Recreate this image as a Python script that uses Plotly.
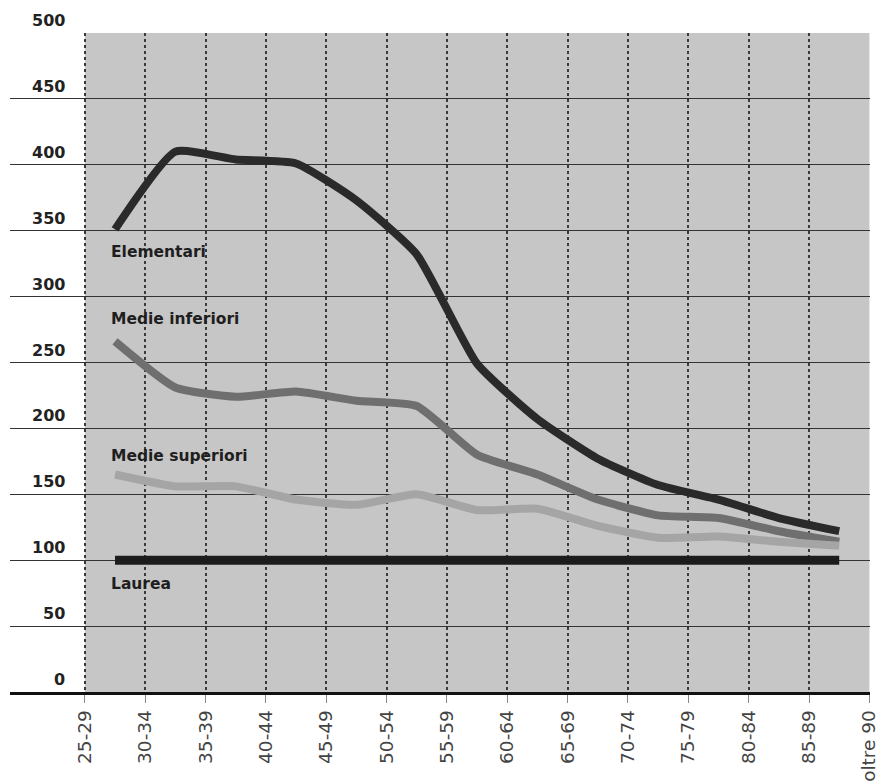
import plotly.graph_objects as go

categories = ["25-29", "30-34", "35-39", "40-44", "45-49", "50-54", "55-59",
              "60-64", "65-69", "70-74", "75-79", "80-84", "85-89", "oltre 90"]

elementari = [351, 410, 404, 401, 373, 332, 249, 207, 177, 157, 146, 132, 122]
medie_inferiori = [266, 231, 224, 228, 221, 217, 180, 165, 146, 134, 132, 122, 114]
medie_superiori = [165, 156, 156, 146, 142, 150, 138, 139, 126, 117, 118, 114, 111]
laurea = [100, 100, 100, 100, 100, 100, 100, 100, 100, 100, 100, 100, 100]

y_ticks = [0, 50, 100, 150, 200, 250, 300, 350, 400, 450, 500]

series = [
    ("Elementari", elementari, "#2a2a2a", 8, "spline", 334),
    ("Medie inferiori", medie_inferiori, "#6f6f6f", 8, "spline", 283),
    ("Medie superiori", medie_superiori, "#a5a5a5", 8, "spline", 179),
    ("Laurea", laurea, "#1c1c1c", 9, "linear", 82),
]

x_mid = [i + 0.5 for i in range(len(elementari))]

fig = go.Figure()
for name, vals, color, w, shape, _ in series:
    fig.add_trace(go.Scatter(
        x=x_mid, y=vals, mode="lines", name=name,
        line=dict(color=color, width=w, shape=shape, smoothing=0.5),
        showlegend=False, hoverinfo="skip"))

# gray plot panel
fig.add_shape(type="rect", xref="x", yref="y", x0=0, x1=len(categories) - 1,
              y0=0, y1=500, fillcolor="#c6c6c6", line=dict(width=0), layer="below")

# series labels
for name, vals, color, w, shape, ly in series:
    fig.add_annotation(x=0.4, y=ly, text=name, showarrow=False, xanchor="left",
                       yanchor="middle",
                       font=dict(family="DejaVu Sans", size=15.5, color="#1e1e1e", weight="bold"))

# y tick labels above the grid lines
for v in y_ticks:
    fig.add_annotation(x=-0.29, y=v, text=str(v), showarrow=False, xanchor="right",
                       yanchor="bottom", yshift=1,
                       font=dict(family="DejaVu Sans", size=16, color="#222222", weight="bold"))

# page body has an 8px default margin: size and margins compensate for it
fig.update_layout(
    width=882, height=775,
    margin=dict(l=2, r=20, t=25, b=91, autoexpand=False),
    paper_bgcolor="white", plot_bgcolor="white",
    xaxis=dict(range=[-1.24, 13.01], tickvals=list(range(len(categories))),
               ticktext=categories, tickangle=-90, automargin=False,
               showgrid=True, gridcolor="#3a3a3a", griddash="dot", gridwidth=1.5,
               showline=True, linecolor="#111111", linewidth=2.5,
               ticks="outside", ticklen=8, tickcolor="#888888", tickwidth=1,
               zeroline=False,
               tickfont=dict(family="DejaVu Sans", size=18.5, color="#444444")),
    yaxis=dict(range=[0, 500], tickvals=y_ticks, showticklabels=False, automargin=False,
               showgrid=True, gridcolor="#333333", gridwidth=1,
               zeroline=False, showline=False),
)

fig.write_html("out.html")
